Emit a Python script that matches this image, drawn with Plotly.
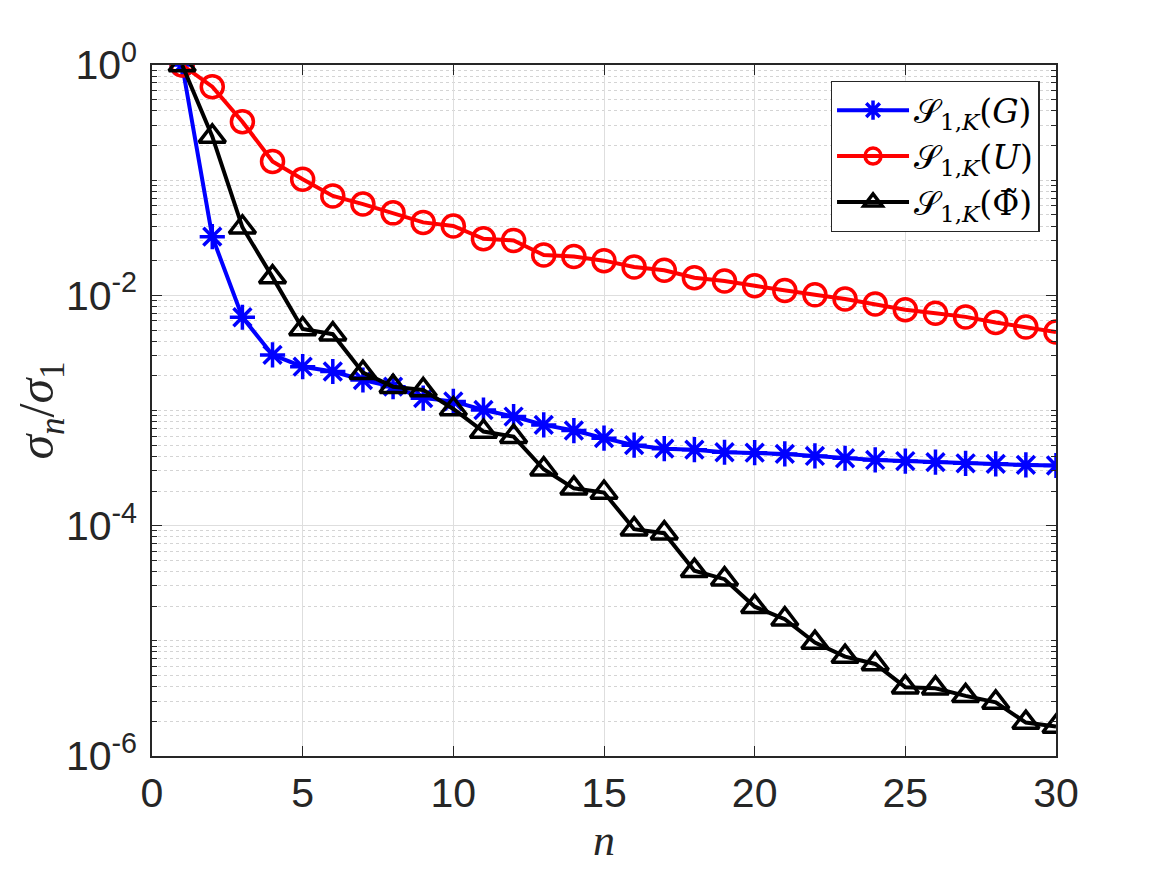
import plotly.graph_objects as go

n = list(range(1, 31))
S_G = [1, 0.0323, 0.00645, 0.00304, 0.0024, 0.00218, 0.00184, 0.00161, 0.00128, 0.0012,
       0.00101, 0.000886, 0.00075, 0.00067, 0.000575, 0.0005, 0.000466, 0.000457, 0.000434, 0.00043,
       0.00042, 0.000403, 0.000385, 0.000372, 0.000364, 0.000356, 0.000348, 0.000344, 0.000337, 0.000333]
S_U = [1, 0.648, 0.322, 0.145, 0.102, 0.073, 0.062, 0.052, 0.043, 0.040,
       0.031, 0.030, 0.0224, 0.0217, 0.0200, 0.0176, 0.0165, 0.0142, 0.0133, 0.0121,
       0.0110, 0.0101, 0.0093, 0.0084, 0.0075, 0.0070, 0.0065, 0.0058, 0.0053, 0.0048]
S_Phi = [1, 0.24, 0.039, 0.0144, 0.0051, 0.0046, 0.00213, 0.00161, 0.00151, 0.00103,
         0.000656, 0.000593, 0.000309, 0.000211, 0.000194, 0.0000931, 0.0000861, 0.0000407, 0.0000343, 0.0000198,
         0.0000154, 0.00000966, 0.0000073, 0.0000063, 0.00000396, 0.00000388, 0.00000333, 0.00000292, 0.00000195, 0.0000018]

names = ["𝒮<sub>1,<i>K</i></sub>(<i>G</i>)",
         "𝒮<sub>1,<i>K</i></sub>(<i>U</i>)",
         "𝒮<sub>1,<i>K</i></sub>(Φ̃)"]
x_ticks = [0, 5, 10, 15, 20, 25, 30]
y_ticks = [1, 1e-2, 1e-4, 1e-6]
y_ticktext = ["10<sup>0</sup>", "10<sup>-2</sup>", "10<sup>-4</sup>", "10<sup>-6</sup>"]

minor_vals = []
for k in range(-6, 0):
    for m in range(1, 10):
        v = m * 10.0 ** k
        if m == 1 and k % 2 == 0:
            continue
        minor_vals.append(v)

fig = go.Figure()
fig.add_trace(go.Scatter(x=n, y=S_G, mode="lines+markers", name=names[0],
                         line=dict(color="#0000ff", width=4),
                         marker=dict(symbol="asterisk-open", size=21, line=dict(color="#0000ff", width=3.5))))
fig.add_trace(go.Scatter(x=n, y=S_U, mode="lines+markers", name=names[1],
                         line=dict(color="#ff0000", width=4),
                         marker=dict(symbol="circle-open", size=22, color="#ff0000", line=dict(color="#ff0000", width=3.5))))
fig.add_trace(go.Scatter(x=n, y=S_Phi, mode="lines+markers", name=names[2],
                         line=dict(color="#000000", width=4),
                         marker=dict(symbol="triangle-up-open", size=23, color="#000000", line=dict(color="#000000", width=3.5))))

axis_common = dict(showline=True, linecolor="#262626", linewidth=1.5, mirror="ticks",
                   ticks="inside", ticklen=10, tickwidth=1.3, tickcolor="#262626",
                   tickfont=dict(family="Liberation Sans, Arial", size=41, color="#262626"),
                   zeroline=False)

fig.update_xaxes(range=[0, 30], tickvals=x_ticks, showgrid=True, gridcolor="#dedede", gridwidth=1.2,
                 ticklabelstandoff=0,
                 title=dict(text="<i>n</i>", font=dict(family="Liberation Serif, DejaVu Serif", size=44, color="#262626"),
                            standoff=2),
                 **axis_common)
fig.update_yaxes(type="log", range=[-6, 0], tickvals=y_ticks, ticktext=y_ticktext,
                 showgrid=True, gridcolor="#dedede", gridwidth=1.2,
                 ticklabelstandoff=5,
                 minor=dict(tickvals=minor_vals, ticks="inside", ticklen=5, tickcolor="#262626",
                            showgrid=True, gridcolor="#d4d4d4", griddash="dot", gridwidth=1),
                 title=dict(text="<i>σ</i><sub><i>n</i></sub>/<i>σ</i><sub>1</sub>",
                            font=dict(family="Liberation Serif, DejaVu Serif", size=50, color="#262626"),
                            standoff=20),
                 **axis_common)

fig.update_layout(width=1159, height=867, paper_bgcolor="white", plot_bgcolor="white",
                  margin=dict(l=144, r=111, t=57, b=119, autoexpand=False),
                  showlegend=True,
                  legend=dict(x=0.982, y=0.977, xanchor="right", yanchor="top",
                              bgcolor="white", bordercolor="#262626", borderwidth=1.3,
                              font=dict(family="DejaVu Serif, Liberation Serif", size=33, color="#000000"),
                              tracegroupgap=0, itemwidth=72))

fig.write_html("out.html")
